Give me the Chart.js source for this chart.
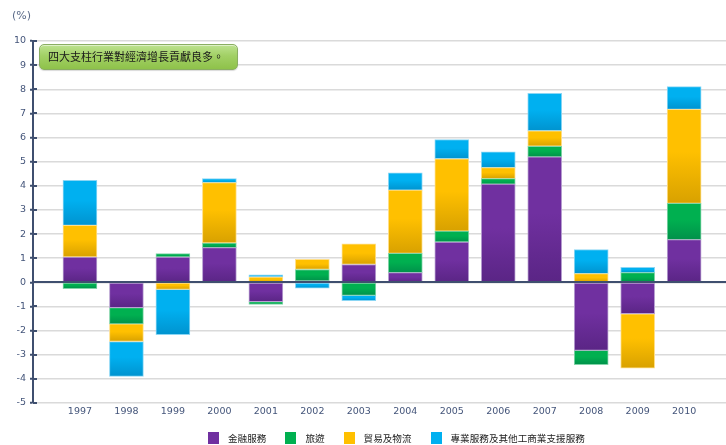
<!DOCTYPE html>
<html lang="zh-Hant">
<head>
<meta charset="utf-8">
<script src="https://cdn.jsdelivr.net/npm/chart.js@4.4.1/dist/chart.umd.min.js"></script>
<style>
    html, body { margin: 0; padding: 0; background: #fff; }
    #wrap { position: relative; width: 726px; height: 445px; }
    #unit { position: absolute; left: 12px; top: 9px; font: 11px "DejaVu Sans", Verdana, sans-serif; line-height: 13px; color: #5a6a88; }
    #note {
        position: absolute; left: 39px; top: 44px; width: 189px; height: 24px;
        border: 1px solid #8aae62; border-radius: 5px;
        background: linear-gradient(#bde28f, #a2d065 45%, #8ec24a);
        box-shadow: inset 0 1px 0 rgba(255,255,255,0.5), 0 1px 1px rgba(0,0,0,0.15);
        font: 11px "Noto Sans CJK TC", sans-serif; line-height: 22px; color: #1a1a1a;
        padding-left: 8px; box-sizing: content-box; white-space: nowrap; overflow: hidden;
    }
    #legend { position: absolute; left: 208px; top: 431px; display: flex; align-items: center; font: 9.6px "Noto Sans CJK TC", sans-serif; color: #222; }
    #legend .item { display: flex; align-items: center; margin-right: 19px; }
    #legend .box { width: 11px; height: 12px; margin-right: 9px; }
</style>
</head>
<body>
<div id="wrap">
    <canvas id="contribChart" width="726" height="445"></canvas>
    <div id="unit">(%)</div>
    <div id="note" lang="zh-Hant-TW">四大支柱行業對經濟增長貢獻良多。</div>
    <div id="legend"></div>
</div>
<script>
// datos
const years = [1997, 1998, 1999, 2000, 2001, 2002, 2003, 2004, 2005, 2006, 2007, 2008, 2009, 2010];
const seriesNames = ['金融服務', '旅遊', '貿易及物流', '專業服務及其他工商業支援服務'];
const finance = [1.05, -1.05, 1.05, 1.44, -0.80, 0.06, 0.74, 0.40, 1.67, 4.07, 5.20, -2.82, -1.30, 1.77];
const tourism = [-0.26, -0.67, 0.14, 0.19, -0.12, 0.47, -0.54, 0.80, 0.45, 0.23, 0.44, -0.59, 0.40, 1.50];
const trade = [1.31, -0.73, -0.29, 2.50, 0.22, 0.42, 0.86, 2.62, 3.00, 0.45, 0.64, 0.36, -2.26, 3.90];
const professional = [1.87, -1.45, -1.88, 0.17, 0.09, -0.24, -0.22, 0.72, 0.80, 0.66, 1.55, 1.00, 0.22, 0.94];
const yTicks = { min: -5, max: 10, step: 1 };

const series = [finance, tourism, trade, professional];
const baseColors = ['#7030a0', '#00b050', '#ffc000', '#00b0f0'];
const darkColors = ['#5a2585', '#00914a', '#d8a100', '#0093cf'];
const edgeColors = ['#b9a2d2', '#82d4a8', '#ffdf8a', '#8ad6f4'];

const labelColor = '#44557a';
const axisColor = '#3f4f6f';

// rango apilado de cada segmento (positivos y negativos por separado)
function segmentRange(di, j) {
    const v = series[di][j];
    let base = 0;
    for (let k = 0; k < di; k++) {
        const w = series[k][j];
        if ((w < 0) === (v < 0)) base += w;
    }
    return [base, base + v];
}

function segmentFill(di) {
    return (context) => {
        const chart = context.chart;
        const y = chart.scales.y;
        if (context.type !== 'data' || !y) return baseColors[di];
        const [a, b] = segmentRange(di, context.dataIndex);
        const top = y.getPixelForValue(Math.max(a, b));
        const bottom = y.getPixelForValue(Math.min(a, b));
        if (!isFinite(top) || !isFinite(bottom) || bottom - top < 1) return baseColors[di];
        const g = chart.ctx.createLinearGradient(0, top, 0, bottom);
        g.addColorStop(0, baseColors[di]);
        g.addColorStop(0.45, baseColors[di]);
        g.addColorStop(1, darkColors[di]);
        return g;
    };
}

// linea del cero y marcas del eje por encima de las barras
const axisDecor = {
    id: 'axisDecor',
    afterDatasetsDraw(chart) {
        const { ctx, chartArea, scales: { y } } = chart;
        ctx.save();
        ctx.strokeStyle = axisColor;
        ctx.lineWidth = 2;
        const y0 = Math.round(y.getPixelForValue(0));
        ctx.beginPath();
        ctx.moveTo(chartArea.left, y0);
        ctx.lineTo(chartArea.right, y0);
        ctx.stroke();
        y.ticks.forEach(t => {
            const py = Math.round(y.getPixelForValue(t.value));
            ctx.beginPath();
            ctx.moveTo(chartArea.left, py);
            ctx.lineTo(chartArea.left + 4, py);
            ctx.stroke();
        });
        ctx.restore();
    }
};

const datasets = series.map((values, di) => ({
    label: seriesNames[di],
    data: values.map((v, i) => ({ x: years[i], y: v })),
    backgroundColor: segmentFill(di),
    borderColor: edgeColors[di],
    borderWidth: 1,
    borderSkipped: false,
    barThickness: 34
}));

new Chart(document.getElementById('contribChart').getContext('2d'), {
    type: 'bar',
    data: { datasets },
    options: {
        responsive: false,
        animation: false,
        devicePixelRatio: 1,
        layout: { padding: { top: 41, right: 0, bottom: 0, left: 0 } },
        plugins: {
            legend: { display: false },
            tooltip: { enabled: false }
        },
        scales: {
            x: {
                type: 'linear',
                stacked: true,
                offset: false,
                min: years[0] - 1.01,
                max: years[years.length - 1] + 0.9,
                grid: { display: false, drawTicks: false, offset: false },
                border: { display: false },
                ticks: {
                    stepSize: 1,
                    includeBounds: false,
                    autoSkip: false,
                    maxRotation: 0,
                    padding: 3,
                    color: labelColor,
                    font: { family: '"DejaVu Sans", Verdana, sans-serif', size: 9.5 },
                    callback: v => years.includes(v) ? String(v) : ''
                },
                afterFit(scale) { scale.height = 42; }
            },
            y: {
                stacked: true,
                min: yTicks.min,
                max: yTicks.max,
                grid: {
                    color: '#dadada',
                    lineWidth: 1.5,
                    drawTicks: true,
                    tickLength: 3,
                    tickColor: axisColor,
                    tickWidth: 2
                },
                border: { color: axisColor, width: 2 },
                ticks: {
                    stepSize: yTicks.step,
                    padding: 4,
                    color: labelColor,
                    font: { family: '"DejaVu Sans", Verdana, sans-serif', size: 9.5 }
                },
                afterFit(scale) { scale.width = 33; }
            }
        }
    },
    plugins: [axisDecor]
});

// leyenda en HTML
const legend = document.getElementById('legend');
seriesNames.forEach((name, i) => {
    const item = document.createElement('div');
    item.className = 'item';
    item.innerHTML = `<span class="box" style="background:${baseColors[i]}"></span><span>${name}</span>`;
    legend.appendChild(item);
});
</script>
</body>
</html>
